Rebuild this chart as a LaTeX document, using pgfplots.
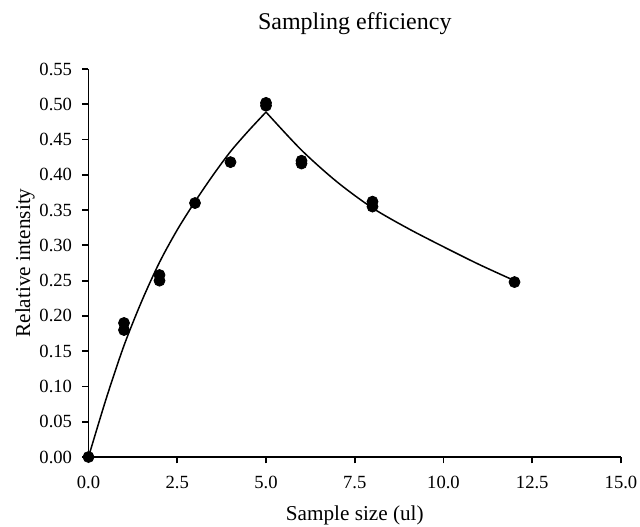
\documentclass[border=0pt]{standalone}
\usepackage{fontspec}
\setmainfont{Liberation Serif}
\usepackage{pgfplots}
\pgfplotsset{compat=1.18}

\begin{document}
\begin{tikzpicture}
\useasboundingbox (-44.25pt,-34.5pt) rectangle (275.75pt,228.5pt);
\begin{axis}[
  scale only axis,
  width=266.25pt, height=194pt,
  xmin=0, xmax=15, ymin=0, ymax=0.55,
  xtick={0,2.5,...,15}, ytick={0,0.05,...,0.56},
  axis x line*=bottom, axis y line*=left,
  axis line style={line width=0.9pt,-},
  tick style={line width=0.9pt,black},
  tick align=outside, major tick length=3.2pt,
  /pgf/number format/assume math mode=true,
  xticklabel style={/pgf/number format/.cd,fixed,fixed zerofill,precision=1,/tikz/.cd,
    font=\fontsize{9.3}{10}\selectfont,yshift=-3pt},
  yticklabel style={/pgf/number format/.cd,fixed,fixed zerofill,precision=2,/tikz/.cd,
    font=\fontsize{9.3}{10}\selectfont,xshift=-1.5pt},
  title={Sampling efficiency},
  title style={at={(axis description cs:0.5,1.085)},anchor=center,font=\fontsize{12}{14}\selectfont},
  xlabel={Sample size (ul)},
  xlabel style={at={(axis description cs:0.5,-0.1495)},anchor=center,font=\fontsize{10.6}{12}\selectfont},
  ylabel={Relative intensity},
  ylabel style={at={(axis description cs:-0.1192,0.5)},anchor=center,font=\fontsize{10.6}{12}\selectfont},
  clip=false,
]
% fitted curve, rising part
\addplot[black,line width=0.75pt,smooth] coordinates {
  (0,0) (0.5,0.083) (1,0.158) (1.5,0.221) (2,0.276) (2.5,0.322)
  (3,0.362) (3.5,0.399) (4,0.433) (4.5,0.462) (5,0.489)};
% fitted curve, decaying part
\addplot[black,line width=0.75pt,smooth] coordinates {
  (5,0.489) (6,0.435) (7,0.390) (8,0.353) (9,0.324) (10,0.298) (11,0.273) (12,0.250)};
% measurements
\addplot[only marks,mark=*,mark size=2.75pt,black] coordinates {
  (0,0)
  (1,0.190) (1,0.180)
  (2,0.258) (2,0.250)
  (3,0.360)
  (4,0.418)
  (5,0.502) (5,0.498)
  (6,0.420) (6,0.416)
  (8,0.362) (8,0.355)
  (12,0.248)};
\end{axis}
\end{tikzpicture}
\end{document}
